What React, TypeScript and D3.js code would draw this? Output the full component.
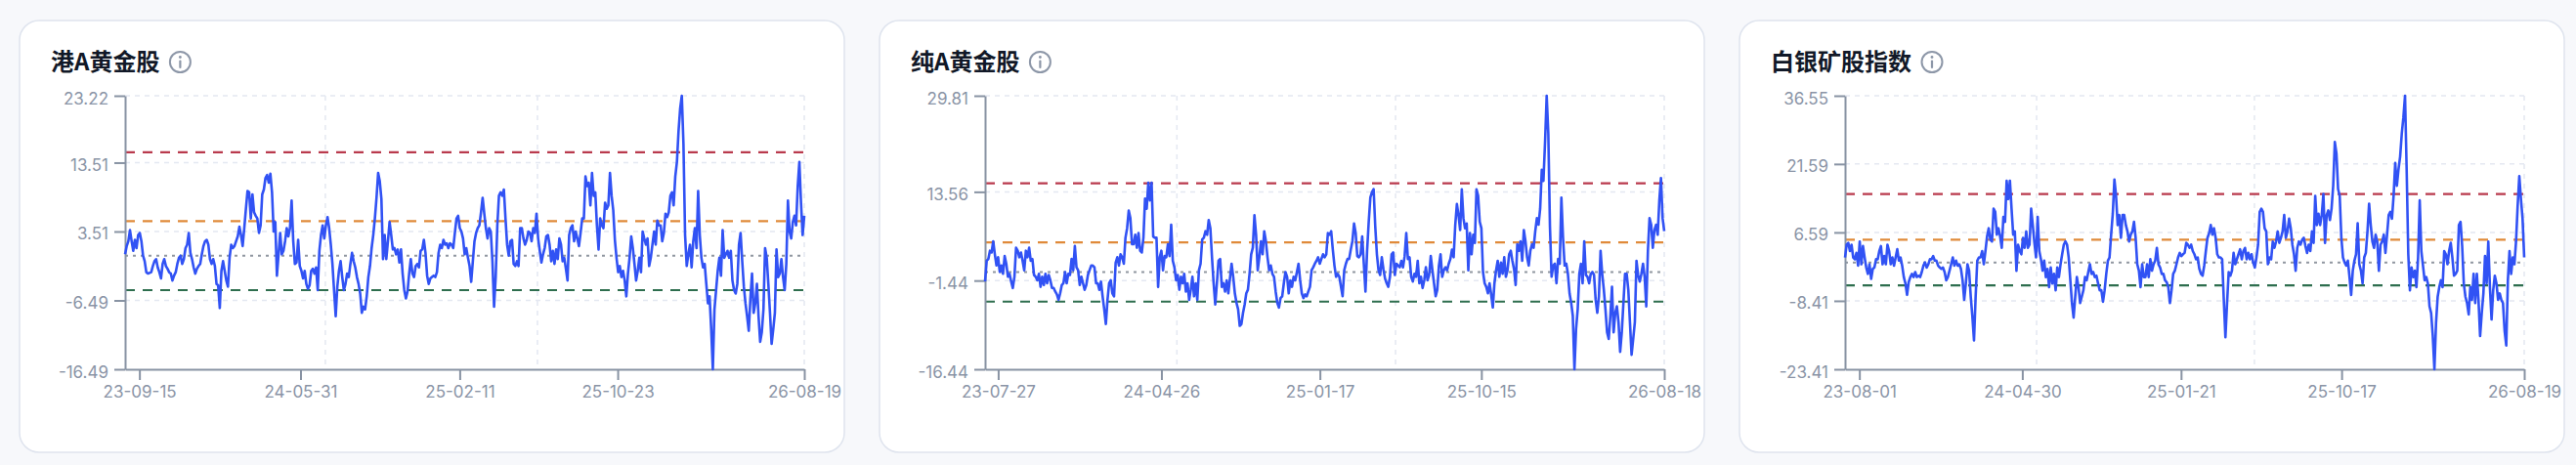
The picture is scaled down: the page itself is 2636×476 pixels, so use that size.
import { useEffect, useRef } from "react";
import * as d3 from "d3";

// panel titles, tick labels and dates
const titles = ["港A黄金股", "纯A黄金股", "白银矿股指数"];

const yTickValues = [
  [23.22, 13.51, 3.51, -6.49, -16.49],
  [29.81, 13.56, -1.44, -16.44],
  [36.55, 21.59, 6.59, -8.41, -23.41],
];

const xTickDates = [
  ["2023-09-15", "2024-05-31", "2025-02-11", "2025-10-23", "2026-08-19"],
  ["2023-07-27", "2024-04-26", "2025-01-17", "2025-10-15", "2026-08-18"],
  ["2023-08-01", "2024-04-30", "2025-01-21", "2025-10-17", "2026-08-19"],
];

const axisStartDates = ["2023-08-23", "2023-07-05", "2023-07-08"];

const gridDates = [
  ["2024-07-10", "2025-06-16"],
  ["2024-05-22", "2025-05-24"],
  ["2024-05-24", "2025-05-24"],
];

// reference bands: upper, mid-upper, zero, lower
const bandLevels = [15, 5, 0, -5];

const hkGold = [
  0.2, 1.4, 2.1, 3.7, 2.1, 0.7, 2.3, 1.1, 3.0, 3.3,
  2.1, 0.0, -0.8, -2.4, -2.6, -2.5, -2.4, -1.5, -0.8, -0.5,
  -1.7, -2.4, -3.3, -1.2, -0.5, -1.5, -1.9, -2.4, -2.6, -3.6,
  -2.9, -2.4, -1.2, -0.3, 0.0, -1.2, -0.5, 1.1, 1.6, 3.3,
  0.4, -0.5, -1.7, -2.6, -1.9, -1.5, -1.2, 0.2, 1.4, 2.1,
  2.3, 1.6, -0.5, -1.2, -0.5, -1.5, -4.1, -4.3, -7.6, -2.2,
  -0.8, -2.2, -3.6, -4.5, -0.3, 1.6, 1.1, 1.4, 2.1, 2.8,
  4.2, 3.0, 1.4, 4.0, 6.8, 9.4, 9.2, 5.4, 8.9, 6.3,
  5.8, 5.4, 3.3, 4.4, 8.9, 9.6, 11.3, 11.7, 10.6, 11.9,
  9.2, 3.5, 4.9, -2.9, 0.2, 3.3, 0.2, 0.7, 2.1, 4.0,
  2.8, 4.0, 8.0, 2.1, -1.2, -1.0, 2.3, -1.5, -2.2, -3.3,
  -2.2, -4.1, -4.8, -4.3, -2.2, -1.9, -2.6, -1.7, -5.0, 0.7,
  3.0, 4.4, 2.5, 4.4, 5.6, 4.0, 1.6, -1.2, -5.0, -8.8,
  -4.5, -2.2, -0.8, -3.1, -5.0, -4.1, -2.6, -3.1, -1.2, 0.4,
  -0.8, -1.7, -3.1, -4.1, -5.5, -8.3, -7.4, -7.8, -5.9, -3.1,
  -1.5, 1.1, 3.0, 5.4, 8.4, 12.0, 10.8, 8.2, -0.5, 3.0,
  -0.5, 2.1, 4.9, 3.0, 0.9, 1.1, 0.2, 0.9, -1.0, 0.9,
  -2.6, -5.0, -6.2, -5.2, -2.6, -0.5, -2.6, -3.1, -1.5, -1.2,
  -1.7, 0.7, 0.9, 2.3, 0.4, -2.9, -4.1, -3.3, -3.1, -2.9,
  -3.1, -2.4, 0.4, 1.6, 1.1, 2.3, 1.6, 1.8, 1.1, 1.8,
  1.6, 1.1, 3.3, 5.4, 5.8, 4.0, 3.5, 2.5, 0.2, 1.1,
  -0.3,
  -1.5, -3.8, -0.8, 2.1, 3.3, 4.0, 4.4, 6.3, 8.4, 6.1,
  4.0, 2.5, 4.0, 3.5, -0.8, -7.4, -3.1, 4.4, 8.7, 9.2,
  8.7, 9.6, 5.4, 1.6, 0.0, 2.1, 2.3, -1.2, -1.5, -0.8,
  -1.5, 4.0, 4.0, 2.5, 1.6, 2.3, 3.5, 3.3, 2.1, 4.0,
  3.3, 6.1, 2.5, 0.7, -1.0, 0.2, 1.1, 2.8, 3.0, 1.6,
  -0.8, 0.7, -1.2, 0.9, -0.5, 2.5, 1.6, -0.8, -0.3, -1.9,
  -3.6, 3.0, 4.0, 4.4, 2.1, 3.5, 2.5, 1.4, 3.3, 5.4,
  5.4, 11.5, 10.1, 10.6, 7.3, 12.0, 8.7, 9.2, 4.4, 0.9,
  5.4, 4.4, 4.0, 7.7, 6.8, 7.3, 12.0, 8.7, 6.6, 2.3,
  -0.3, -2.4, -1.5, -3.1, -2.2, -3.6, -5.9, -2.6, -0.3, 2.8,
  1.1, -1.2, -3.6, -2.2, -0.3, -2.4, 3.5, 2.5, 1.6, 2.5,
  -1.5, -0.3, 1.6, 3.5, 1.6, 5.1, 4.4, 4.4, 2.1, 3.3,
  6.1, 5.6, 6.3, 8.7, 9.2, 7.3, 11.5, 13.6, 18.1, 21.4,
  23.22, 16.2, 3.0, -1.5, 0.2, 1.6, -1.7, 2.1, 4.0, 1.1,
  9.4, 3.0, -0.3, -1.7, -1.2, -4.1, -6.9, -5.9, -10.7, -16.49,
  -7.8, -5.0, -2.2, -0.3, -2.9, 3.7, -0.3, 0.2, 0.7, -0.3,
  0.7, -3.6, -5.0, -5.5, -4.1, 1.6, 3.3, -0.8, -4.5, -6.9,
  -8.8, -10.9, -6.2, -2.6, -8.3, -6.9, -4.1, -8.8, -12.5, -11.1,
  -7.8, 1.1, -0.3, -4.1, -8.3, -12.8, -10.7, -8.3, 0.9, -3.1,
  -2.6, -0.5, -3.1, -5.0, -1.2, 8.0, 3.5, 2.5, 4.9, 5.8,
  4.4, 10.1, 13.6, 7.7, 3.0, 5.8,
];

const aGold = [
  -1.6, 1.9, 2.2, 3.6, 3.3, 5.2, 3.0, 1.1, 2.5, 0.0,
  1.1, -0.3, 2.7, 1.4, -0.8, -0.3, -1.6, -2.7, -0.8, 4.1,
  3.6, 2.5, 3.3, 1.9, 0.3, 3.6, 2.5, 4.1, 1.9, 2.2,
  -0.5, -0.8, -1.4, -0.3, -2.5, -0.8, -2.2, -0.3, -1.9, -0.5,
  -1.4, -2.7, -2.7, -3.3, -3.8, -4.7, -3.6, -2.2, -1.9, 0.0,
  -1.9, -0.3, -0.5, 2.2, 0.3, 4.4, 0.8, 0.3, -2.2, -0.8,
  -1.9, -3.0, -2.2, -0.5, 0.3, 1.1, 1.1, 0.8, -1.9, -1.9,
  -3.0, -1.6, -4.1, -6.3, -8.8, -4.7, -1.9, -1.4, -3.6, -4.1,
  1.6, 2.5, 1.1, 3.0, 2.5, 1.4, 5.8, 7.4, 10.4, 9.1,
  4.7, 4.7, 6.3, 4.1, 6.6, 3.6, 3.3, 5.8, 12.4, 10.7,
  15.1, 12.1, 15.1, 6.0, 5.8, 5.8, -2.5, 2.5, 3.6, 0.3,
  2.7, 2.5, 4.7, 2.7, 8.0, 1.9, 0.8, -1.4, -0.5, -3.0,
  -0.8, -1.9, -0.3, -3.3, -1.9, -4.7, -3.0, -0.8, -4.1, -1.9,
  -4.7, 0.3, 1.4, 5.5, 5.8, 6.9, 6.3, 8.8, 7.4, 2.5,
  -1.9, -5.5, -1.9, 1.9, 2.2, -2.5, -1.9, -3.3, -1.4, -3.6,
  -1.1, 1.4, -0.8, -3.6, -5.2, -6.3, -9.1, -8.8, -6.9, -5.5,
  -3.6, -3.0, -0.3, 3.0, 4.1, 9.6, 6.3, 0.3, 2.5, 5.2,
  3.0, 6.9, 5.2, 2.5, 0.3, 1.1, -0.3, -0.8, -3.3, -5.2,
  -6.0, -4.4, -4.1, -1.9, 0.0, -0.8, -3.6, -1.4, -2.5, -0.8,
  -1.4, 0.0, 1.4, -1.4, -3.6, -4.4, -3.8, -4.1, -3.3, -2.5,
  0.3, 0.8, 1.4, 1.9, 2.5, 1.4, 2.2, 3.0, 2.5, 3.0,
  6.6,
  6.3, 6.9, 3.8, 1.1, -0.8, -0.3, -0.8, -2.5, -4.1, 0.3,
  1.4, 2.2, 2.2, 3.8, 5.2, 8.2, 6.6, 2.7, 2.5, 3.0,
  6.0, 1.4, -3.3, 3.6, 8.5, 12.6, 13.5, 14.0, 7.7, 3.0,
  0.3, -0.5, 2.5, 0.5, -1.1, -1.9, -2.5, -0.8, 3.0, 3.3,
  -0.5, 1.4, 1.1, 0.8, 1.9, 0.8, 2.7, 6.6, 2.2, 2.5,
  -0.8, -1.6, -0.3, -0.8, 1.9, -1.9, -0.8, -2.7, -1.4, 0.8,
  -1.4, -0.5, 2.7, 0.3, -1.9, -4.1, -3.0, 1.1, 3.0, -0.8,
  0.3, 0.8, 0.3, 1.4, 2.2, 3.8, 2.5, 8.0, 11.5, 9.6,
  7.1, 14.0, 9.1, 7.4, 8.2, 0.3, 6.6, 3.0, 6.3, 4.9,
  14.0, 12.9, 8.5, 7.4, 0.0, -1.9, -2.5, -3.6, -1.9, -3.8,
  -6.0, -1.9, 0.3, 1.9, -0.8, 1.6, -0.3, 2.5, -0.8, 0.3,
  3.0, 3.6, 1.9, 0.5, -2.2, 4.7, 3.6, 5.2, 1.9, 7.1,
  5.2, 2.5, 1.1, 3.6, 4.7, 4.1, 6.9, 9.1, 8.0, 10.7,
  17.3, 15.4, 22.0, 29.81, 23.4, 7.7, -0.8, 1.1, 1.4, -1.9,
  2.2, 1.4, 12.6, 5.8, 1.1, 1.4, -0.3, -3.6, -5.2, -7.4,
  -16.44, -9.6, -6.3, -0.3, 1.4, -1.9, 5.2, -0.5, -0.8, -1.9,
  -0.3, 0.0, -0.5, -4.7, -6.9, -4.1, 3.6, -0.3, -3.0, -6.3,
  -10.2, -11.3, -7.4, -2.5, -10.2, -6.9, -5.8, -8.5, -13.5, -10.2,
  -5.2, -0.3, -0.3, -3.0, -8.5, -14.0, -11.3, -8.5, 1.9, -0.5,
  -1.6, -0.3, 1.4, -0.8, -5.8, 3.6, 9.1, 8.0, 4.1, 7.1,
  8.0, 6.3, 12.1, 15.9, 9.1, 6.9,
];

const silverMiners = [
  1.1, 3.9, 4.3, 2.5, 3.9, 1.1, 0.7, 2.1, -0.7, 4.6,
  -0.4, 3.6, 1.1, -1.1, -2.5, -0.4, -3.6, -1.4, -1.1, 0.7,
  0.7, 2.5, 3.6, -0.4, 1.4, -0.4, 3.9, 2.5, -0.4, 1.1,
  -0.7, 1.1, 2.9, 0.4, 1.1, -0.7, -3.2, -4.6, -7.1, -4.3,
  -3.2, -2.5, -3.2, -2.1, -3.2, -2.9, -3.2, -2.1, -0.7, 0.0,
  -1.1, -0.4, 0.7, 0.7, 1.4, 0.4, 0.4, -0.7, -1.1, -1.4,
  -1.1, -2.1, -3.9, -3.2, -1.8, -0.4, 1.1, -0.7, 0.4, -0.7,
  -0.4, -1.4, -3.9, -8.2, -4.6, -0.4, -1.8, -7.5, -11.8, -17.1,
  -7.5, 0.4, 1.1, 1.1, 2.5, -0.4, 2.5, 5.7, 7.5, 5.0,
  4.6, 11.8, 11.1, 6.1, 7.5, 5.7, 3.2, 10.0, 8.9, 17.9,
  13.9, 17.9, 11.8, 6.1, 6.8, -1.8, 3.9, 2.5, 1.8, 5.4,
  3.2, 6.8, 3.2, 3.9, 11.8, 8.2, 4.3, 1.1, 10.0, 2.5,
  0.7, -1.8, 0.4, -3.2, -1.4, -5.4, -1.1, -4.6, -2.5, -6.1,
  -1.1, -3.2, -0.4, 1.8, 3.9, 4.6, 3.9, 1.1, -3.9, -8.9,
  -12.1, -7.5, -3.2, -5.4, -8.9, -7.5, -6.1, -3.2, -3.9, -2.1,
  -0.4, -2.5, -2.1, -3.2, -2.9, -4.6, -6.1, -6.1, -8.6, -6.1,
  -2.5, 0.4, 1.1, 6.1, 10.7, 18.2, 14.6, 8.2, 10.4, 5.4,
  10.4, 10.4, 8.2, 6.8, 4.6, 6.1, 6.8, 8.9, 5.4, -0.4,
  -1.8, -5.4, -0.4, -3.2, -3.2, -0.4, -3.2, 0.7, -1.8, -0.4,
  0.4, 3.2, -0.4, -1.1, -2.5, -2.5, -3.9, -4.3, -5.4, -8.9,
  -6.1, -2.5, -1.8, -0.4, 1.1, 2.1, 1.4, 1.8, 2.1, 4.3,
  3.9,
  3.2, 3.9, 2.5, 1.8, 0.7, 1.1, -1.4, -2.5, -2.9, -0.7,
  2.5, 5.4, 6.4, 8.2, 6.1, 7.5, 5.4, 1.8, 1.1, 1.1,
  0.7, -8.2, -16.4, -8.9, -2.1, -2.9, -1.8, 2.1, -0.4, 0.7,
  1.8, 2.9, 0.7, 2.5, 3.2, 0.7, 2.1, 0.7, 1.8, 0.0,
  -1.1, 1.1, 3.9, 11.1, 11.8, 11.1, 7.5, 6.8, -0.4, 1.1,
  0.7, 4.6, 3.2, 4.6, 6.8, 4.3, 5.4, 6.8, 10.4, 5.4,
  6.8, 9.6, 7.5, 3.9, 1.8, -1.8, 3.2, 4.6, 3.9, 5.0,
  5.4, 3.6, 2.1, 3.9, 2.5, 6.8, 4.3, 14.6, 8.2, 10.7,
  8.2, 10.4, 15.0, 4.3, 10.4, 11.4, 9.3, 11.8, 16.8, 26.4,
  23.9, 16.1, 14.6, 5.4, 1.1, 0.0, -0.7, 0.4, -3.2, -7.1,
  -1.8, 0.4, 1.8, 8.6, -0.4, -1.8, -4.6, 1.1, 2.1, 6.8,
  12.9, 8.2, 4.6, 3.2, 6.1, 4.6, -1.8, 3.9, 4.6, 6.1,
  2.1, 6.1, 10.4, 11.1, 9.6, 14.6, 21.8, 16.8, 20.4, 23.2,
  28.2, 31.8, 36.55, 20.4, 1.8, -6.1, -1.1, -3.2, -1.8, -5.4,
  1.1, 13.6, 2.5, -0.7, -3.9, -3.2, -4.6, -9.6, -11.1, -16.1,
  -23.41, -13.2, -7.5, -5.4, -3.9, -5.4, 2.5, 1.8, -0.4, 2.5,
  4.3, 1.1, -2.9, -2.5, -1.8, 8.2, 8.9, 3.6, -4.6, -7.5,
  -8.9, -11.4, -5.4, -8.2, -2.5, -8.9, -2.5, -8.2, -16.1, -11.1,
  -6.8, 1.4, -4.6, 4.6, -5.4, -12.5, -6.1, -2.9, -4.6, -8.2,
  -6.8, -8.2, -8.9, -15.0, -18.2, -3.9, 2.5, -2.5, 1.1, -0.4,
  4.6, 12.5, 18.9, 13.9, 9.6, 1.1,
];

const seriesValues = [hkGold, aGold, silverMiners];

const W = 2636;
const H = 476;
const cardLeft = 20;
const cardTop = 21;
const cardW = 844;
const cardH = 442;
const cardGap = 36;
const margin = { left: 108, top: 77 };
const plotW = 695;
const plotH = 280;

const bandStyles = [
  { color: "#b93a4d", dash: "10 8", width: 2.2 },
  { color: "#e08a3a", dash: "10 8", width: 2.2 },
  { color: "#9097a0", dash: "3 5", width: 2 },
  { color: "#2e6e4e", dash: "10 8", width: 2.2 },
];

const axisColor = "#8893a3";
const labelColor = "#8a94a6";
const gridColor = "#e4e8f1";

const App = () => {
  const svgRef = useRef<SVGSVGElement>(null);

  useEffect(() => {
    const svg = d3.select(svgRef.current);
    svg.selectAll("*").remove();

    const parse = d3.timeParse("%Y-%m-%d");
    const fmt = d3.timeFormat("%y-%m-%d");

    svg.append("rect").attr("width", W).attr("height", H).attr("fill", "#f7f8fb");

    titles.forEach((title, i) => {
      const card = svg
        .append("g")
        .attr("transform", `translate(${cardLeft + i * (cardW + cardGap)}, ${cardTop})`);

      card
        .append("rect")
        .attr("width", cardW)
        .attr("height", cardH)
        .attr("rx", 20)
        .attr("fill", "#ffffff")
        .attr("stroke", "#dfe4ee")
        .attr("stroke-width", 1.5);

      // title + info icon
      const titleText = card
        .append("text")
        .attr("x", 32)
        .attr("y", 51)
        .attr("font-family", "'Noto Sans CJK SC', 'Noto Sans', sans-serif")
        .attr("font-size", 24)
        .attr("font-weight", 700)
        .attr("fill", "#111827")
        .text(title);
      const tw = (titleText.node() as SVGTextElement).getComputedTextLength();
      const icx = 32 + tw + 21;
      const icy = 42.5;
      const icon = card.append("g").attr("stroke", "#8d97a8").attr("fill", "none");
      icon.append("circle").attr("cx", icx).attr("cy", icy).attr("r", 10.5).attr("stroke-width", 2);
      icon
        .append("line")
        .attr("x1", icx)
        .attr("x2", icx)
        .attr("y1", icy - 1)
        .attr("y2", icy + 5.5)
        .attr("stroke-width", 2.2)
        .attr("stroke-linecap", "round");
      icon
        .append("circle")
        .attr("cx", icx)
        .attr("cy", icy - 5)
        .attr("r", 1.4)
        .attr("fill", "#8d97a8")
        .attr("stroke", "none");

      const g = card.append("g").attr("transform", `translate(${margin.left}, ${margin.top})`);

      const yTicks = yTickValues[i];
      const values = seriesValues[i];
      const tickDates = xTickDates[i].map((d) => parse(d) as Date);
      const start = parse(axisStartDates[i]) as Date;
      const end = tickDates[tickDates.length - 1];

      const xScale = d3.scaleTime().domain([start, end]).range([0, plotW]);
      const yScale = d3
        .scaleLinear()
        .domain([d3.min(yTicks) as number, d3.max(yTicks) as number])
        .range([plotH, 0]);
      const xIndex = d3.scaleLinear().domain([0, values.length - 1]).range([0, plotW]);

      // grid
      const minTick = d3.min(yTicks) as number;
      g.selectAll(".hgrid")
        .data(yTicks.filter((v) => v !== minTick))
        .enter()
        .append("line")
        .attr("x1", 0)
        .attr("x2", plotW)
        .attr("y1", (d) => yScale(d))
        .attr("y2", (d) => yScale(d))
        .attr("stroke", gridColor)
        .attr("stroke-width", 1.5)
        .attr("stroke-dasharray", "5 5");

      const vDates = [...gridDates[i].map((d) => parse(d) as Date), end];
      g.selectAll(".vgrid")
        .data(vDates)
        .enter()
        .append("line")
        .attr("x1", (d) => xScale(d))
        .attr("x2", (d) => xScale(d))
        .attr("y1", 0)
        .attr("y2", plotH)
        .attr("stroke", gridColor)
        .attr("stroke-width", 1.5)
        .attr("stroke-dasharray", "5 5");

      // reference bands
      bandLevels.forEach((lv, k) => {
        const s = bandStyles[k];
        g.append("line")
          .attr("x1", 0)
          .attr("x2", plotW)
          .attr("y1", yScale(lv))
          .attr("y2", yScale(lv))
          .attr("stroke", s.color)
          .attr("stroke-width", s.width)
          .attr("stroke-dasharray", s.dash);
      });

      // axes
      const yAxis = d3
        .axisLeft(yScale)
        .tickValues(yTicks)
        .tickSize(11)
        .tickSizeOuter(0)
        .tickPadding(6)
        .tickFormat((d) => (d as number).toFixed(2));
      const xAxis = d3
        .axisBottom(xScale)
        .tickValues(tickDates)
        .tickSize(11)
        .tickSizeOuter(0)
        .tickPadding(6)
        .tickFormat((d) => fmt(d as Date));

      const yG = g.append("g").call(yAxis);
      const xG = g.append("g").attr("transform", `translate(0, ${plotH})`).call(xAxis);

      [yG, xG].forEach((ax) => {
        ax.attr("font-family", "Inter, 'Noto Sans', sans-serif").attr("font-size", 17);
        ax.select(".domain").attr("stroke", axisColor).attr("stroke-width", 2);
        ax.selectAll(".tick line").attr("stroke", axisColor).attr("stroke-width", 2);
        ax.selectAll(".tick text").attr("fill", labelColor);
      });
      yG.selectAll(".tick text").attr("dy", "0.47em");

      // series line
      const line = d3
        .line<number>()
        .x((_, k) => xIndex(k))
        .y((d) => yScale(d));

      g.append("path")
        .datum(values)
        .attr("fill", "none")
        .attr("stroke", "#3152f4")
        .attr("stroke-width", 2.6)
        .attr("stroke-linejoin", "round")
        .attr("d", line);
    });
  }, []);

  return (
    <svg
      ref={svgRef}
      width={W}
      height={H}
      style={{ position: "absolute", left: 0, top: 0, display: "block" }}
    />
  );
};

export default App;
